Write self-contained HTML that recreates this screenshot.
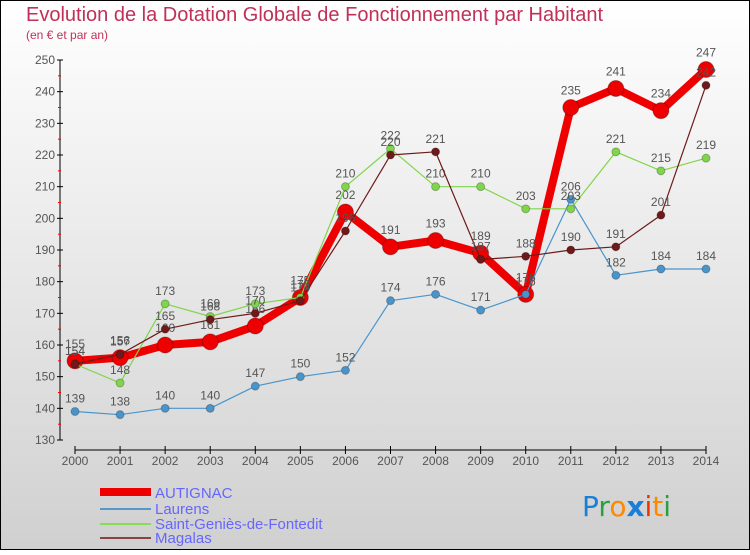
<!DOCTYPE html>
<html><head><meta charset="utf-8"><style>
html,body{margin:0;padding:0}
body{width:750px;height:550px;overflow:hidden;font-family:"Liberation Sans",sans-serif}
</style></head><body>
<svg id="chart" width="750" height="550" xmlns="http://www.w3.org/2000/svg" font-family="Liberation Sans, sans-serif">
<defs><linearGradient id="bg" x1="0" y1="0" x2="0" y2="1"><stop offset="0" stop-color="#ffffff"/><stop offset="1" stop-color="#d0d0d0"/></linearGradient></defs>
<rect x="0.5" y="0.5" width="749" height="549" fill="url(#bg)" stroke="#000"/>
<text x="26" y="21" font-size="20" fill="#c0305a">Evolution de la Dotation Globale de Fonctionnement par Habitant</text>
<text x="26" y="39" font-size="12" fill="#c0305a">(en € et par an)</text>
<g id="axes"></g>
<g id="series"></g>
<g id="legend">
<rect x="100" y="488" width="51" height="8" fill="#ee0000"/>
<text x="155" y="498" font-size="15" fill="#6666ff">AUTIGNAC</text>
<rect x="100" y="508" width="51" height="2" fill="#5599cc"/>
<text x="155" y="514" font-size="15" fill="#6666ff">Laurens</text>
<rect x="100" y="523" width="51" height="2" fill="#88dd55"/>
<text x="155" y="529" font-size="15" fill="#6666ff">Saint-Geniès-de-Fontedit</text>
<rect x="100" y="537" width="51" height="2" fill="#884444"/>
<text x="155" y="543" font-size="15" fill="#6666ff">Magalas</text>
</g>
<text x="582" y="516" font-size="28" font-family="DejaVu Sans, sans-serif"><tspan fill="#1a7fd6">P</tspan><tspan fill="#2aa040">r</tspan><tspan fill="#ff8800">o</tspan><tspan fill="#1a7fd6" font-weight="bold">x</tspan><tspan fill="#ee3300">i</tspan><tspan fill="#ff8800">t</tspan><tspan fill="#2aa040">i</tspan></text>
</svg>
<script>
const years = [2000,2001,2002,2003,2004,2005,2006,2007,2008,2009,2010,2011,2012,2013,2014];
const autignac = [155,156,160,161,166,175,202,191,193,189,176,235,241,234,247];
const laurens = [139,138,140,140,147,150,152,174,176,171,176,206,182,184,184];
const saintGenies = [154,148,173,169,173,175,210,222,210,210,203,203,221,215,219];
const magalas = [154,157,165,168,170,174,196,220,221,187,188,190,191,201,242];
const yTicks = [130,140,150,160,170,180,190,200,210,220,230,240,250];

const NS = "http://www.w3.org/2000/svg";
function xS(i){return 75 + i*(706-75)/14;}
function yS(v){return 440 - (v-130)*(380/120);}
function mk(tag, attrs, parent){const e=document.createElementNS(NS,tag);for(const k in attrs)e.setAttribute(k,attrs[k]);parent.appendChild(e);return e;}

const axes = document.getElementById('axes');
const yAxis = mk('line',{x1:60,y1:yS(250),x2:60,y2:yS(130),stroke:'#000','stroke-width':1},axes);


const xAxis = mk('line',{x1:75,y1:450,x2:706,y2:450,stroke:'#000','stroke-width':1},axes);


yTicks.forEach(v=>{
  const t = mk('line',{x1:57,y1:yS(v),x2:63,y2:yS(v),stroke:'#000'},axes);
  
  
  const l = mk('text',{x:55,y:yS(v)+4,'font-size':12,'text-anchor':'end',fill:'#555'},axes);
  l.textContent = v;
  
  
  if(v<250){
    const m = mk('line',{x1:58,y1:yS(v+5),x2:61,y2:yS(v+5),stroke:'#f00'},axes);
    
    
  }
});
years.forEach((yr,i)=>{
  const t = mk('line',{x1:xS(i),y1:446,x2:xS(i),y2:454,stroke:'#000'},axes);
  
  
  const l = mk('text',{x:xS(i),y:465,'font-size':12,'text-anchor':'middle',fill:'#555'},axes);
  l.textContent = yr;
  
  
});

const sg = document.getElementById('series');
function drawSeries(vals, color, lw, r, name){
  const g = mk('g',{},sg);
  
  
  const pts = vals.map((v,i)=>xS(i)+','+yS(v)).join(' ');
  const pl = mk('polyline',{points:pts,fill:'none',stroke:color,'stroke-width':lw,'stroke-linejoin':'round'},g);
  
  
  vals.forEach((v,i)=>{
    const c = mk('circle',{cx:xS(i),cy:yS(v),r:r,fill:color,stroke:'rgba(0,0,0,0.25)','stroke-width':1},g);
    
    
  });
  vals.forEach((v,i)=>{
    const t = mk('text',{x:xS(i),y:yS(v)-r-5,'font-size':12,'text-anchor':'middle',fill:'#555'},g);
    t.textContent = v;
    
    
  });
}
drawSeries(autignac,'#ee0000',8,8,'series-autignac');
drawSeries(laurens,'#4a94cc',1.2,4,'series-laurens');
drawSeries(saintGenies,'#7fd64a',1.2,4,'series-saint-genies');
drawSeries(magalas,'#6e1a1a',1.2,4,'series-magalas');
</script>
</body></html>
